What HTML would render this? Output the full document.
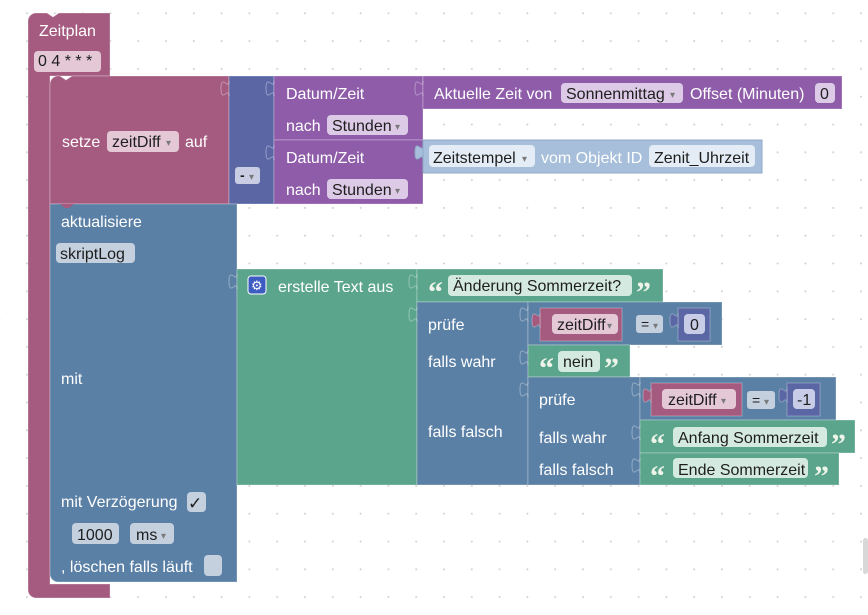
<!DOCTYPE html>
<html><head><meta charset="utf-8">
<style>
html,body{margin:0;padding:0;background:#fff;}
svg{display:block;}
text{font-family:"Liberation Sans",Arial,sans-serif;font-size:16px;}
.w{fill:#fff;}
.d{fill:#1e1e1e;}
.ar{font-size:10px;fill:#7a7a7a;}
.q{font-family:"Liberation Serif",serif;font-weight:bold;font-size:30px;fill:#eef4ea;}
.blk{stroke:rgba(255,255,255,0.28);stroke-width:1;}
.tab{fill:none;stroke:rgba(255,255,255,0.35);stroke-width:1;}
</style></head>
<body>
<svg width="868" height="615" viewBox="0 0 868 615" xmlns="http://www.w3.org/2000/svg">
<defs>
<pattern id="grid" patternUnits="userSpaceOnUse" x="13.1" y="-0.6" width="27.8" height="27.8">
<circle cx="13.9" cy="13.9" r="1" fill="#cfcfcf"/>
</pattern>
</defs>
<rect width="868" height="615" fill="#fff"/>
<rect width="868" height="615" fill="url(#grid)"/>

<!-- Zeitplan -->
<path class="blk" d="M28,21 a8,8 0 0 1 8,-8 H47 l6,4 l6,-4 H110 V76 H50 V584 H110 V598 H36 a8,8 0 0 1 -8,-8 Z" fill="#A55B80"/>
<text x="39" y="36" class="w">Zeitplan</text>
<rect x="34" y="51" width="67" height="21" rx="4" fill="#E4C8D6"/>
<text x="38" y="66" class="d">0 4 * * *</text>

<!-- setze -->
<path class="blk" d="M50,84 a8,8 0 0 1 8,-8 H60 l6,4 l6,-4 H229 V204 H50 Z" fill="#A55B80"/>
<text x="62" y="147" class="w">setze</text>
<rect x="107" y="131" width="72" height="21" rx="4" fill="#E4C8D6"/>
<text x="112" y="147" class="d">zeitDiff</text>
<text x="166" y="146" class="ar">▾</text>
<text x="185" y="147" class="w">auf</text>

<!-- minus block -->
<rect class="blk" x="229" y="76" width="45" height="128" fill="#5B67A5"/>
<path class="tab" d="M229,81 c0,10 -8,-8 -8,7.5 s8,-2.5 8,7.5"/>
<rect x="235" y="167" width="25" height="17" rx="3" fill="#C8CDE4"/>
<text x="240" y="180" class="d" style="font-weight:bold;font-size:14px">-</text>
<text x="249" y="180" class="ar">▾</text>

<!-- Datum/Zeit 1 -->
<rect class="blk" x="274" y="76" width="149" height="64" fill="#8E5CA8"/>
<path class="tab" d="M274,81 c0,10 -8,-8 -8,7.5 s8,-2.5 8,7.5"/>
<text x="286" y="99" class="w">Datum/Zeit</text>
<text x="286" y="131" class="w">nach</text>
<rect x="327" y="115" width="81" height="20" rx="4" fill="#DCCAE6"/>
<text x="332" y="131" class="d">Stunden</text>
<text x="395" y="130" class="ar">▾</text>

<!-- Datum/Zeit 2 -->
<rect class="blk" x="274" y="140" width="149" height="64" fill="#8E5CA8"/>
<path class="tab" d="M274,145 c0,10 -8,-8 -8,7.5 s8,-2.5 8,7.5"/>
<text x="286" y="163" class="w">Datum/Zeit</text>
<text x="286" y="195" class="w">nach</text>
<rect x="327" y="179" width="81" height="20" rx="4" fill="#DCCAE6"/>
<text x="332" y="195" class="d">Stunden</text>
<text x="395" y="194" class="ar">▾</text>

<!-- Aktuelle Zeit -->
<rect class="blk" x="423" y="76" width="419" height="33" fill="#8E5CA8"/>
<path class="tab" d="M423,81 c0,10 -8,-8 -8,7.5 s8,-2.5 8,7.5"/>
<text x="434" y="99" class="w">Aktuelle Zeit von</text>
<rect x="561" y="83" width="122" height="20" rx="4" fill="#DCCAE6"/>
<text x="566" y="99" class="d">Sonnenmittag</text>
<text x="670" y="98" class="ar">▾</text>
<text x="690" y="99" class="w">Offset (Minuten)</text>
<rect x="815" y="83" width="20" height="20" rx="4" fill="#DCCAE6"/>
<text x="820" y="99" class="d">0</text>

<!-- Zeitstempel -->
<rect x="423" y="140" width="339" height="33" fill="#A7BFDB" stroke="#8EA8C8" stroke-width="1"/>
<path d="M423,145 c0,10 -8,-8 -8,7.5 s8,-2.5 8,7.5 z" fill="#A7BFDB" stroke="#8EA8C8"/>
<rect x="429" y="145" width="106" height="22" rx="4" fill="#E4ECF5"/>
<text x="433" y="163" class="d">Zeitstempel</text>
<text x="522" y="162" class="ar">▾</text>
<text x="541" y="163" class="w">vom Objekt ID</text>
<rect x="649" y="145" width="106" height="22" rx="4" fill="#E4ECF5"/>
<text x="654" y="163" class="d">Zenit_Uhrzeit</text>

<!-- aktualisiere -->
<path class="blk" d="M50,204 H237 V582 H58 a8,8 0 0 1 -8,-8 Z" fill="#5B80A5"/>
<path d="M60,204 l5,4 h4 l5,-4 Z" fill="#A55B80"/>
<text x="61" y="227" class="w">aktualisiere</text>
<rect x="56" y="243" width="79" height="20" rx="4" fill="#C5D0DE"/>
<text x="60" y="259" class="d">skriptLog</text>
<text x="61" y="384" class="w">mit</text>
<text x="61" y="507" class="w">mit Verzögerung</text>
<rect x="187" y="492" width="19" height="20" rx="4" fill="#C5D0DE"/>
<text x="188" y="509" class="d" style="font-family:'DejaVu Sans',sans-serif;font-size:17px;font-weight:bold">✓</text>
<rect x="72" y="523" width="47" height="21" rx="4" fill="#C5D0DE"/>
<text x="77" y="540" class="d">1000</text>
<rect x="130" y="523" width="44" height="21" rx="4" fill="#C5D0DE"/>
<text x="136" y="540" class="d">ms</text>
<text x="161" y="539" class="ar">▾</text>
<text x="61" y="572" class="w">, löschen falls läuft</text>
<rect x="204" y="555" width="18" height="21" rx="4" fill="#C5D0DE"/>

<!-- erstelle Text aus -->
<rect class="blk" x="237" y="269" width="180" height="216" fill="#5BA58C"/>
<path class="tab" d="M237,274 c0,10 -8,-8 -8,7.5 s8,-2.5 8,7.5"/>
<rect x="248" y="276" width="18" height="18" rx="3" fill="#3D5CC2" stroke="#fff" stroke-width="1"/>
<text x="251" y="290" style="font-family:'DejaVu Sans',sans-serif;font-size:13px;fill:#fff">⚙</text>
<text x="278" y="292" class="w">erstelle Text aus</text>

<!-- Änderung Sommerzeit? -->
<rect class="blk" x="417" y="269" width="246" height="33" fill="#5BA58C"/>
<path class="tab" d="M417,274 c0,10 -8,-8 -8,7.5 s8,-2.5 8,7.5"/>
<text x="428" y="302" class="q">“</text>
<rect x="448" y="275" width="184" height="21" rx="4" fill="#D4EAE1"/>
<text x="453" y="291" class="d">Änderung Sommerzeit?</text>
<text x="636" y="302" class="q">”</text>

<!-- outer ternary -->
<rect class="blk" x="417" y="302" width="111" height="183" fill="#5B80A5"/>
<path class="tab" d="M417,307 c0,10 -8,-8 -8,7.5 s8,-2.5 8,7.5"/>
<text x="428" y="330" class="w">prüfe</text>
<text x="428" y="367" class="w">falls wahr</text>
<text x="428" y="437" class="w">falls falsch</text>

<!-- compare 1 -->
<rect class="blk" x="528" y="302" width="194" height="43" fill="#5B80A5"/>
<path class="tab" d="M528,307 c0,10 -8,-8 -8,7.5 s8,-2.5 8,7.5"/>
<rect class="blk" x="540" y="308" width="82" height="33" fill="#A55B80"/>
<path d="M540,313 c0,10 -8,-8 -8,7.5 s8,-2.5 8,7.5 z" fill="#A55B80" stroke="rgba(255,255,255,0.3)"/>
<rect x="552" y="314" width="66" height="20" rx="4" fill="#E4C8D6"/>
<text x="557" y="330" class="d">zeitDiff</text>
<text x="607" y="329" class="ar">▾</text>
<rect x="636" y="315" width="27" height="18" rx="3" fill="#C5D0DE"/>
<text x="641" y="329" class="d" style="font-size:14px">=</text>
<text x="653" y="329" class="ar">▾</text>
<rect class="blk" x="678" y="308" width="32" height="33" fill="#5B67A5"/>
<path d="M678,313 c0,10 -8,-8 -8,7.5 s8,-2.5 8,7.5 z" fill="#5B67A5" stroke="rgba(255,255,255,0.3)"/>
<rect x="684" y="314" width="21" height="20" rx="4" fill="#C8CCE6"/>
<text x="690" y="330" class="d">0</text>

<!-- nein -->
<rect class="blk" x="528" y="345" width="102" height="32" fill="#5BA58C"/>
<path class="tab" d="M528,350 c0,10 -8,-8 -8,7.5 s8,-2.5 8,7.5"/>
<text x="539" y="378" class="q">“</text>
<rect x="558" y="351" width="42" height="21" rx="4" fill="#D4EAE1"/>
<text x="563" y="367" class="d">nein</text>
<text x="604" y="378" class="q">”</text>

<!-- inner ternary -->
<rect class="blk" x="528" y="377" width="112" height="108" fill="#5B80A5"/>
<path class="tab" d="M528,382 c0,10 -8,-8 -8,7.5 s8,-2.5 8,7.5"/>
<text x="539" y="405" class="w">prüfe</text>
<text x="539" y="443" class="w">falls wahr</text>
<text x="539" y="475" class="w">falls falsch</text>

<!-- compare 2 -->
<rect class="blk" x="640" y="377" width="196" height="43" fill="#5B80A5"/>
<path class="tab" d="M640,382 c0,10 -8,-8 -8,7.5 s8,-2.5 8,7.5"/>
<rect class="blk" x="651" y="383" width="91" height="33" fill="#A55B80"/>
<path d="M651,388 c0,10 -8,-8 -8,7.5 s8,-2.5 8,7.5 z" fill="#A55B80" stroke="rgba(255,255,255,0.3)"/>
<rect x="662" y="389" width="74" height="20" rx="4" fill="#E4C8D6"/>
<text x="668" y="405" class="d">zeitDiff</text>
<text x="721" y="404" class="ar">▾</text>
<rect x="747" y="391" width="28" height="18" rx="3" fill="#C5D0DE"/>
<text x="752" y="405" class="d" style="font-size:14px">=</text>
<text x="764" y="405" class="ar">▾</text>
<rect class="blk" x="787" y="383" width="33" height="33" fill="#5B67A5"/>
<path d="M787,388 c0,10 -8,-8 -8,7.5 s8,-2.5 8,7.5 z" fill="#5B67A5" stroke="rgba(255,255,255,0.3)"/>
<rect x="793" y="389" width="22" height="20" rx="4" fill="#C8CCE6"/>
<text x="797" y="405" class="d">-1</text>

<!-- Anfang Sommerzeit -->
<rect class="blk" x="640" y="420" width="215" height="33" fill="#5BA58C"/>
<path class="tab" d="M640,425 c0,10 -8,-8 -8,7.5 s8,-2.5 8,7.5"/>
<text x="650" y="454" class="q">“</text>
<rect x="673" y="427" width="154" height="20" rx="4" fill="#D4EAE1"/>
<text x="678" y="443" class="d">Anfang Sommerzeit</text>
<text x="831" y="454" class="q">”</text>

<!-- Ende Sommerzeit -->
<rect class="blk" x="640" y="453" width="199" height="32" fill="#5BA58C"/>
<path class="tab" d="M640,458 c0,10 -8,-8 -8,7.5 s8,-2.5 8,7.5"/>
<text x="650" y="486" class="q">“</text>
<rect x="673" y="458" width="135" height="20" rx="4" fill="#D4EAE1"/>
<text x="678" y="475" class="d">Ende Sommerzeit</text>
<text x="814" y="486" class="q">”</text>

<!-- scrollbar -->
<rect x="863" y="538" width="5" height="36" rx="2.5" fill="#d8d8d8"/>
</svg>
</body></html>
